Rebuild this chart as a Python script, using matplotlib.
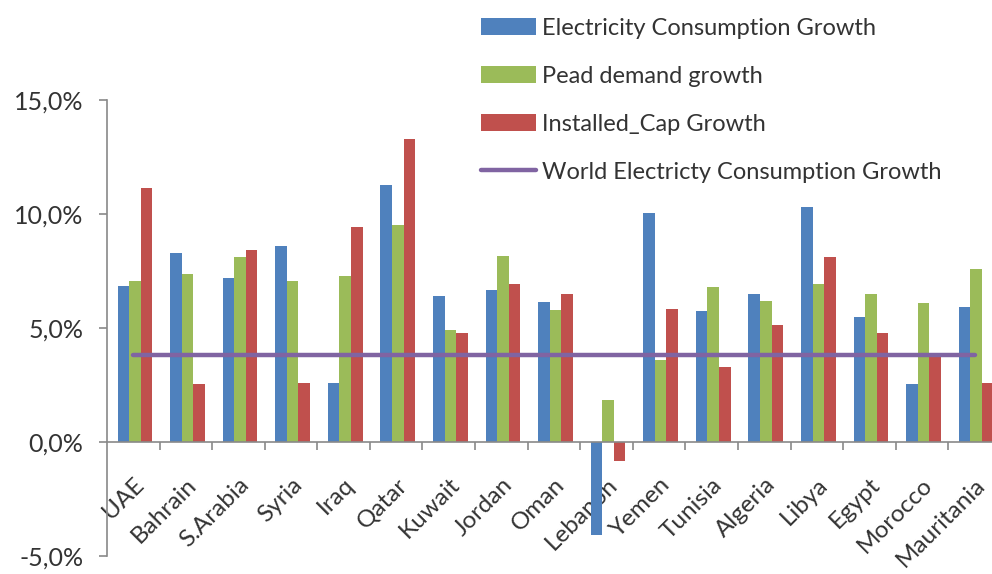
import matplotlib
matplotlib.use("Agg")
import matplotlib.pyplot as plt
import numpy as np
from matplotlib.ticker import FuncFormatter, FixedLocator

plt.rcParams['font.family'] = ['Lato', 'DejaVu Sans']

countries = ['UAE', 'Bahrain', 'S.Arabia', 'Syria', 'Iraq', 'Qatar', 'Kuwait',
             'Jordan', 'Oman', 'Lebanon', 'Yemen', 'Tunisia', 'Algeria', 'Libya',
             'Egypt', 'Morocco', 'Mauritania']

# values in percent
consumption_growth = [6.85, 8.3, 7.2, 8.6, 2.6, 11.25, 6.4, 6.65, 6.15, -4.1,
                      10.05, 5.75, 6.5, 10.3, 5.5, 2.55, 5.9]
peak_demand_growth = [7.05, 7.35, 8.1, 7.05, 7.3, 9.5, 4.9, 8.15, 5.8, 1.85,
                      3.6, 6.8, 6.2, 6.95, 6.5, 6.1, 7.6]
installed_cap_growth = [11.15, 2.55, 8.4, 2.6, 9.45, 13.3, 4.8, 6.95, 6.5, -0.85,
                        5.85, 3.3, 5.15, 8.1, 4.8, 3.75, 2.6]
world_growth = 3.8

series_labels = ['Electricity Consumption Growth', 'Pead demand growth',
                 'Installed_Cap Growth', 'World Electricty Consumption Growth']
colors = ['#4F81BD', '#9BBB59', '#C0504D', '#8064A2']
axis_gray = '#898989'
text_color = '#333333'

fig = plt.figure(figsize=(9.92, 5.74), dpi=100)
ax = fig.add_axes([0.1079, 0.0314, 0.901, 0.7944])

x = np.arange(len(countries))
w = 0.22
bars = []
for i, vals in enumerate([consumption_growth, peak_demand_growth, installed_cap_growth]):
    b = ax.bar(x + (i - 1) * w + 0.03, vals, width=w, color=colors[i], zorder=2)
    bars.append(b)

line, = ax.plot(x, [world_growth] * len(x), color=colors[3], lw=3.2,
                solid_capstyle='round', zorder=3)

ax.set_xlim(-0.5, len(countries) - 0.5)
ax.set_ylim(-5, 15)

for s in ['top', 'right']:
    ax.spines[s].set_visible(False)
ax.spines['bottom'].set_position(('data', 0))
ax.spines['bottom'].set_color(axis_gray)
ax.spines['left'].set_color(axis_gray)
ax.spines['bottom'].set_linewidth(1.2)
ax.spines['left'].set_linewidth(1.2)

ax.set_yticks([-5, 0, 5, 10, 15])
ax.yaxis.set_major_formatter(FuncFormatter(lambda v, p: f'{v:.1f}%'.replace('.', ',')))
ax.tick_params(axis='y', direction='out', length=6, width=1.2, color=axis_gray,
               labelsize=18, labelcolor=text_color, pad=11)

ax.xaxis.set_major_locator(FixedLocator(x[:-1] + 0.5))
ax.xaxis.set_minor_locator(FixedLocator(x))
ax.set_xticklabels([], minor=False)
ax.set_xticklabels(countries, minor=True, rotation=45, ha='right', va='top',
                   rotation_mode='anchor')
ax.tick_params(axis='x', which='major', direction='out', length=6, width=1.2,
               color=axis_gray)
ax.tick_params(axis='x', which='minor', length=0, labelsize=17.5,
               labelcolor=text_color, pad=23)

fig.legend(bars + [line], series_labels, loc='upper left',
           bbox_to_anchor=(481 / 992, 1 - 18 / 574), frameon=False,
           fontsize=17, labelcolor=text_color, handlelength=2.35,
           handletextpad=0.25, labelspacing=1.14, borderpad=0, borderaxespad=0)

fig.savefig('out.png', dpi=100)
